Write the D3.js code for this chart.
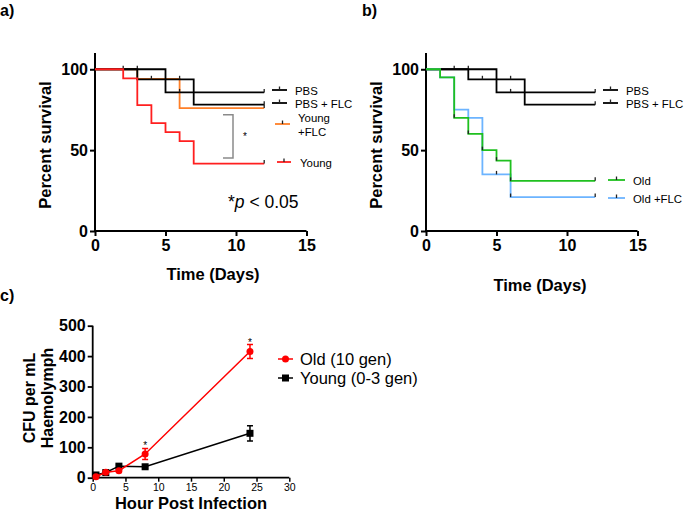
<!DOCTYPE html>
<html><head><meta charset="utf-8">
<script src="https://cdn.jsdelivr.net/npm/d3@7"></script>
<style>body{margin:0;background:#fff}svg{display:block}text{font-family:"Liberation Sans",Arial,sans-serif}</style>
</head><body>
<svg id="c" width="685" height="513"></svg>
<script>
// ---------- DATA ----------
const survTicks = [0, 50, 100];
const dayTicks = [0, 5, 10, 15];
// Kaplan-Meier steps: [day, percent]
const pbsSteps = [[0,100],[5,85.7],[12,85.7]];
const pbsCens = [2,3,6,12];
const pbsFlcSteps = [[0,100],[3,93.8],[7,78.1],[12,78.1]];
const pbsFlcCens = [4,6,12];
const youngFlcSteps = [[0,100],[3,94.1],[6,76],[12,76]];
const youngFlcCens = [12];
const youngSteps = [[0,100],[2,94.4],[3,77.8],[4,66.7],[5,61.1],[6,55.6],[7,41.7],[12,41.7]];
const youngCens = [12];
const oldFlcSteps = [[0,100],[1,95],[2,75],[3,70],[4,35],[6,21],[12,21]];
const oldFlcCens = [5,6,12];
const oldSteps = [[0,100],[1,95],[2,70],[3,60],[4,50],[5,43.5],[6,31],[12,31]];
const oldCens = [2,3,4,5,6,12];

// CFU data
const hours = [0.5, 2, 4, 8, 24];
const oldCFU = [3, 18, 23, 78, 415];
const oldErr = [2, 3, 4, 18, 23];
const youngCFU = [9, 17, 38, 36, 146];
const youngErr = [2, 3, 4, 5, 25];
const hourTicks = [0, 5, 10, 15, 20, 25, 30];
const cfuTicks = [0, 100, 200, 300, 400, 500];

// ---------- DRAW ----------
const svg = d3.select("#c");
const black = "#000", red = "#ff1f1f", orange = "#ff7f27", green = "#1fc01f", blue = "#6cb4ff";
const LEGFS = 11.4;

function kmPanel(x0, x1, series, labelX) {
  const x = d3.scaleLinear().domain([0,15]).range([x0, x1]);
  const y = d3.scaleLinear().domain([0,110]).range([231, 53.1]);
  const g = svg.append("g");
  const ax = g.append("g").attr("transform","translate(0,231)")
    .call(d3.axisBottom(x).tickValues(dayTicks).tickSize(5).tickPadding(4));
  const ay = g.append("g").attr("transform",`translate(${x0},0)`)
    .call(d3.axisLeft(y).tickValues(survTicks).tickSize(5).tickPadding(2));
  [ax, ay].forEach(a => {
    a.select(".domain").attr("stroke-width",2);
    a.selectAll(".tick line").attr("stroke-width",2);
    a.selectAll("text").attr("font-size",16).attr("font-weight","bold").attr("fill","#000");
  });
  ax.select(".domain").attr("d", `M${x0},0H${x1}`);
  ay.select(".domain").attr("d", `M0,${y(110)}V231`);
  const line = d3.line().x(d=>x(d[0])).y(d=>y(d[1])).curve(d3.curveStepAfter);
  series.forEach(s => {
    g.append("path").datum(s.steps).attr("d", line).attr("fill","none")
      .attr("stroke", s.color).attr("stroke-width", 1.8);
    const valAt = t => { let v = 100; s.steps.forEach(p => { if (p[0] <= t) v = p[1]; }); return v; };
    g.selectAll(null).data(s.cens).enter().append("line")
      .attr("x1", t=>x(t)).attr("x2", t=>x(t))
      .attr("y1", t=>y(valAt(t))).attr("y2", t=>y(valAt(t))-3.5)
      .attr("stroke", "#222").attr("stroke-width", 1.3);
  });
  g.append("text").attr("transform",`translate(${labelX},${(y(110)+231)/2+3}) rotate(-90)`)
    .attr("text-anchor","middle").attr("font-size",16.5).attr("font-weight","bold").text("Percent survival");
  return {g, x, y};
}

function legItem(g, x1, x2, y, color, lines, tx) {
  g.append("line").attr("x1",x1).attr("x2",x2).attr("y1",y).attr("y2",y).attr("stroke",color).attr("stroke-width",1.8);
  g.append("line").attr("x1",(x1+x2)/2).attr("x2",(x1+x2)/2).attr("y1",y).attr("y2",y-3.5).attr("stroke","#222").attr("stroke-width",1.3);
  lines.forEach(l => g.append("text").attr("x",tx).attr("y",l[1]).attr("font-size",LEGFS).text(l[0]));
}

// Panel a
const A = kmPanel(95, 306.5, [
  {steps: youngFlcSteps, cens: youngFlcCens, color: orange},
  {steps: pbsSteps, cens: pbsCens, color: black},
  {steps: pbsFlcSteps, cens: pbsFlcCens, color: black},
  {steps: youngSteps, cens: youngCens, color: red}
], 51);
A.g.append("text").attr("x",213).attr("y",280).attr("text-anchor","middle").attr("font-size",16.5).attr("font-weight","bold").text("Time (Days)");
legItem(A.g, 272, 287, 90, black, [["PBS",94.5]], 295);
legItem(A.g, 272, 287, 103, black, [["PBS + FLC",107.5]], 295);
legItem(A.g, 275, 290, 124, orange, [["Young",122],["+FLC",136]], 298);
legItem(A.g, 277, 291, 162, red, [["Young",166.5]], 300);
A.g.append("path").attr("d","M223,114.7H233V158H223").attr("fill","none").attr("stroke","#8a8a8a").attr("stroke-width",1.5);
A.g.append("text").attr("x",245).attr("y",140).attr("text-anchor","middle").attr("font-size",10).text("*");
const pt = A.g.append("text").attr("x",228).attr("y",208).attr("font-size",17.5);
pt.append("tspan").text("*");
pt.append("tspan").attr("font-style","italic").text("p");
pt.append("tspan").text(" < 0.05");

// Panel b
const B = kmPanel(426, 637.5, [
  {steps: pbsSteps, cens: pbsCens, color: black},
  {steps: pbsFlcSteps, cens: pbsFlcCens, color: black},
  {steps: oldFlcSteps, cens: oldFlcCens, color: blue},
  {steps: oldSteps, cens: oldCens, color: green}
], 382);
B.g.append("text").attr("x",540).attr("y",291).attr("text-anchor","middle").attr("font-size",16.5).attr("font-weight","bold").text("Time (Days)");
legItem(B.g, 603, 618, 90, black, [["PBS",94.5]], 626);
legItem(B.g, 603, 618, 103, black, [["PBS + FLC",107.5]], 626);
legItem(B.g, 608, 625, 180, green, [["Old",184.5]], 633);
legItem(B.g, 608, 625, 198, blue, [["Old +FLC",202.5]], 633);

// Panel labels
svg.append("text").attr("x",0).attr("y",16).attr("font-size",16).attr("font-weight","bold").text("a)");
svg.append("text").attr("x",362).attr("y",16).attr("font-size",16).attr("font-weight","bold").text("b)");
svg.append("text").attr("x",0).attr("y",301).attr("font-size",16).attr("font-weight","bold").text("c)");

// Panel c
const xc = d3.scaleLinear().domain([0,30]).range([92.7, 289.3]);
const yc = d3.scaleLinear().domain([0,500]).range([477.7, 325.7]);
const gc = svg.append("g");
const axc = gc.append("g").attr("transform","translate(0,477.7)")
  .call(d3.axisBottom(xc).tickValues(hourTicks).tickSize(4).tickPadding(2));
axc.select(".domain").attr("d","M92.7,0H289.3").attr("stroke-width",1.8);
axc.selectAll(".tick line").attr("stroke-width",1.5);
axc.selectAll("text").attr("font-size",10.5).attr("fill","#000");
const ayc = gc.append("g").attr("transform","translate(92.7,0)")
  .call(d3.axisLeft(yc).tickValues(cfuTicks).tickSize(5).tickPadding(2));
ayc.select(".domain").attr("d","M0,325.7V477.7").attr("stroke-width",1.8);
ayc.selectAll(".tick line").attr("stroke-width",1.8);
ayc.selectAll("text").attr("font-size",16).attr("font-weight","bold").attr("fill","#000");

function cfuSeries(vals, errs, color, marker) {
  const pts = hours.map((h,i)=>({h, v: vals[i], e: errs[i]}));
  gc.append("path").datum(pts).attr("d", d3.line().x(d=>xc(d.h)).y(d=>yc(d.v)))
    .attr("fill","none").attr("stroke",color).attr("stroke-width",1.5);
  gc.selectAll(null).data(pts).enter().append("path")
    .attr("d", d=>`M${xc(d.h)},${yc(d.v+d.e)}V${yc(d.v-d.e)}M${xc(d.h)-3},${yc(d.v+d.e)}h6M${xc(d.h)-3},${yc(d.v-d.e)}h6`)
    .attr("stroke",color).attr("stroke-width",1.5).attr("fill","none");
  if (marker === "circle") {
    gc.selectAll(null).data(pts).enter().append("circle").attr("cx",d=>xc(d.h)).attr("cy",d=>yc(d.v)).attr("r",3.5).attr("fill",color);
  } else {
    gc.selectAll(null).data(pts).enter().append("rect").attr("x",d=>xc(d.h)-3.5).attr("y",d=>yc(d.v)-3.5).attr("width",7).attr("height",7).attr("fill",color);
  }
}
cfuSeries(youngCFU, youngErr, "#000", "square");
cfuSeries(oldCFU, oldErr, "#ff0000", "circle");
gc.append("text").attr("x",xc(8)).attr("y",yc(100)+2).attr("text-anchor","middle").attr("font-size",10).text("*");
gc.append("text").attr("x",xc(24)).attr("y",yc(438)+1).attr("text-anchor","middle").attr("font-size",10).text("*");

gc.append("text").attr("transform","translate(35,398) rotate(-90)").attr("text-anchor","middle").attr("font-size",16).attr("font-weight","bold").text("CFU per mL");
gc.append("text").attr("transform","translate(53,398) rotate(-90)").attr("text-anchor","middle").attr("font-size",16).attr("font-weight","bold").text("Haemolymph");
gc.append("text").attr("x",191).attr("y",509).attr("text-anchor","middle").attr("font-size",16.5).attr("font-weight","bold").text("Hour Post Infection");

// legend c
gc.append("line").attr("x1",278).attr("x2",293).attr("y1",359).attr("y2",359).attr("stroke","#ff0000").attr("stroke-width",1.5);
gc.append("circle").attr("cx",285.5).attr("cy",359).attr("r",3.5).attr("fill","#ff0000");
gc.append("text").attr("x",300).attr("y",365).attr("font-size",16.5).text("Old (10 gen)");
gc.append("line").attr("x1",278).attr("x2",293).attr("y1",378).attr("y2",378).attr("stroke","#000").attr("stroke-width",1.5);
gc.append("rect").attr("x",282).attr("y",374.5).attr("width",7).attr("height",7).attr("fill","#000");
gc.append("text").attr("x",300).attr("y",384).attr("font-size",16.5).text("Young (0-3 gen)");
</script>
</body></html>
